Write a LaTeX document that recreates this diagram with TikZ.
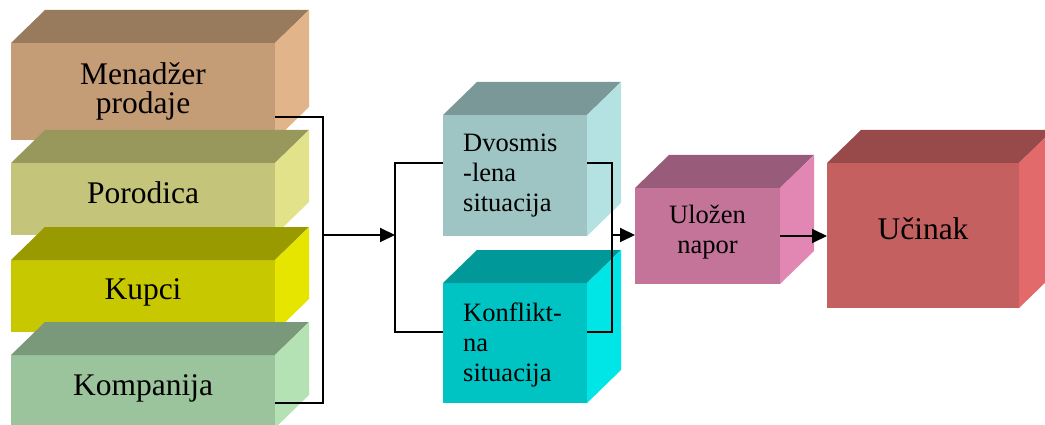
\documentclass[tikz,border=0pt]{standalone}
\usepackage{fontspec}
\setmainfont{Liberation Serif}
\usetikzlibrary{arrows.meta}
\newcommand\cstack[1]{\vtop{\lineskiplimit=-\maxdimen\halign{\hfil##\hfil\cr#1\crcr}}}
\newcommand\lstack[1]{\vtop{\lineskiplimit=-\maxdimen\halign{##\hfil\cr#1\crcr}}}
\definecolor{menf}{RGB}{196,156,118}\definecolor{ment}{RGB}{152,122,92}\definecolor{mens}{RGB}{226,180,138}
\definecolor{porf}{RGB}{196,196,122}\definecolor{port}{RGB}{152,152,92}\definecolor{pors}{RGB}{226,226,138}
\definecolor{kupf}{RGB}{200,200,0}\definecolor{kupt}{RGB}{153,153,0}\definecolor{kups}{RGB}{229,229,0}
\definecolor{komf}{RGB}{156,196,156}\definecolor{komt}{RGB}{122,152,122}\definecolor{koms}{RGB}{180,226,180}
\definecolor{dvof}{RGB}{158,196,196}\definecolor{dvot}{RGB}{122,152,152}\definecolor{dvos}{RGB}{180,226,226}
\definecolor{konf}{RGB}{0,196,196}\definecolor{kont}{RGB}{0,152,152}\definecolor{kons}{RGB}{0,229,229}
\definecolor{ulof}{RGB}{196,116,152}\definecolor{ulot}{RGB}{152,92,122}\definecolor{ulos}{RGB}{226,134,180}
\definecolor{ucif}{RGB}{196,96,96}\definecolor{ucit}{RGB}{152,74,74}\definecolor{ucis}{RGB}{226,106,106}
\newcommand\cuboid[6]{%
  \node[front, fill=#6f, minimum width={(#4-#2)*1pt}, minimum height={(#5-#3)*1pt}] (#1) at ({(#2+#4)/2},{(#3+#5)/2}) {};
  \fill[#6t] (#1.north west) -- ++(34,-33) -- ([shift={(34,-33)}]#1.north east) -- (#1.north east) -- cycle;
  \fill[#6s] (#1.north east) -- ++(34,-33) -- ([shift={(34,-33)}]#1.south east) -- (#1.south east) -- cycle;
}
\begin{document}
\begin{tikzpicture}[x=1pt,y=-1pt,
  front/.style={inner sep=0pt, outer sep=0pt, draw=none, rectangle},
  big/.style={font=\fontsize{31.5}{29}\selectfont, inner sep=0pt},
  mid/.style={font=\fontsize{26.5}{30}\selectfont, inner sep=0pt},
  conn/.style={line width=2pt},
  arr/.style={line width=2pt, -{Triangle[length=15pt,width=14pt]}}]
\clip (0,0) rectangle (1045,425);
\fill[white] (0,0) rectangle (1045,425);
\cuboid{men}{11}{43}{275}{140}{men}
\cuboid{por}{11}{163}{275}{235}{por}
\cuboid{kup}{11}{260}{275}{332}{kup}
\cuboid{kom}{11}{355}{275}{428}{kom}
\cuboid{dvo}{443}{115}{587}{236}{dvo}
\cuboid{kon}{443}{283}{587}{403}{kon}
\cuboid{ulo}{635}{188}{780}{284}{ulo}
\cuboid{uci}{827}{163}{1019}{308}{uci}
\node[big, anchor=base] (tmen) at (143,85) {\cstack{Menadžer\cr prodaje}};
\node[big, anchor=base] (tpor) at (143,204) {Porodica};
\node[big, anchor=base] (tkup) at (143,299) {Kupci};
\node[big, anchor=base] (tkom) at (143,395) {Kompanija};
\node[mid, anchor=base west] (tdvo) at (463,152) {\lstack{Dvosmis\cr -lena\cr situacija}};
\node[mid, anchor=base west] (tkon) at (463,321) {\lstack{Konflikt-\cr na\cr situacija}};
\node[mid, anchor=base] (tulo) at (707.5,223) {\cstack{Uložen\cr napor}};
\node[big, anchor=base] (tuci) at (923,240) {Učinak};
\coordinate (j1) at (323,235);
\coordinate (j2) at (395,235);
\coordinate (j3) at (612,235);
\draw[conn] ([yshift=23pt]men.south east) -| (j1) |- ([yshift=25pt]kom.south east);
\draw[arr] (j1) -- (j2);
\draw[conn] ([yshift=-48pt]dvo.north west) -| (j2) |- ([yshift=-49pt]kon.north west);
\draw[conn] ([yshift=-48pt]dvo.north east) -| (j3) |- ([yshift=-49pt]kon.north east);
\draw[arr] (j3) -- (j3 -| ulo.west);
\draw[arr] (ulo.east) -- (ulo.east -| uci.west);
\end{tikzpicture}
\end{document}
